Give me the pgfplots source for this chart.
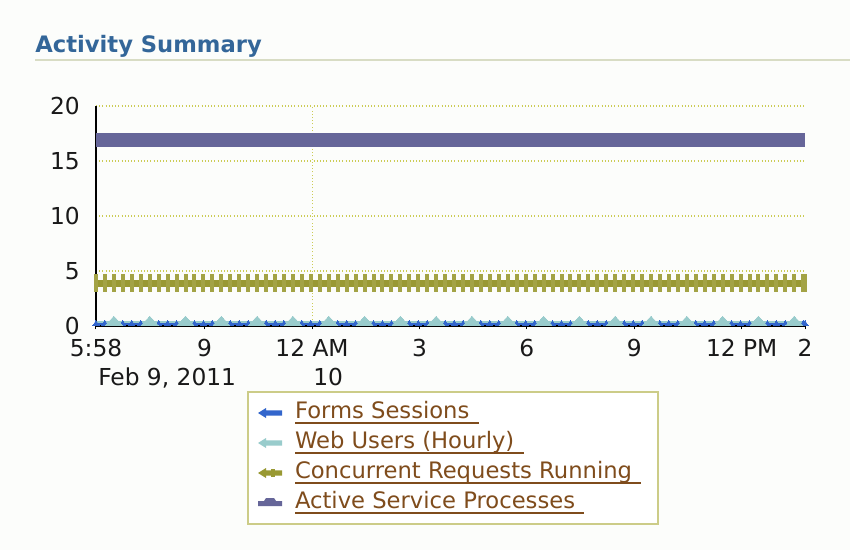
\documentclass[border=0pt]{standalone}
\usepackage{pgfplots}
\pgfplotsset{compat=1.18}
\usepackage{pgfplotstable}
\usepackage{fontspec}
\setmainfont{DejaVu Sans}
\definecolor{bg}{HTML}{FCFDFB}
\definecolor{titleblue}{HTML}{336699}
\definecolor{rulecol}{HTML}{D8DCC4}
\definecolor{gridcol}{HTML}{CCCC55}
\definecolor{fsblue}{HTML}{3366CC}
\definecolor{wuteal}{HTML}{99CCCC}
\definecolor{crolive}{HTML}{999933}
\definecolor{crbar}{HTML}{A3A345}
\definecolor{aspslate}{HTML}{666699}
\definecolor{lgbrown}{HTML}{7F4C1C}
\definecolor{lgborder}{HTML}{CCCC88}
\newcommand\tf{\fontsize{17.5}{21}\selectfont}
\newcommand\lf{\fontsize{17}{20.4}\selectfont}
\newcommand\lgd[1]{\hspace*{9.75pt}\setbox0\hbox{#1\hspace*{7pt}}\rlap{\rule[-4.2pt]{\wd0}{1.4pt}}\box0\hspace*{5pt}}
\newcommand\lgarrow[1]{\fill[#1, draw=none] (0pt,0pt) -- (6pt,3.75pt) -- (6pt,1.9pt) -- (18pt,1.9pt) -- (18pt,-1.9pt) -- (6pt,-1.9pt) -- (6pt,-3.75pt) -- cycle;}
\newcommand\lghump[1]{\fill[#1, draw=none] (0pt,-2.25pt) -- (0pt,1.5pt) -- (4.5pt,1.5pt) -- (6pt,3.75pt) -- (12pt,3.75pt) -- (13.5pt,1.5pt) -- (18pt,1.5pt) -- (18pt,-2.25pt) -- cycle;}
\pgfplotstableread{
x fs wu cr asp
0 0.2 0.35 3.9 16.9
0.25 0.2 0.35 3.9 16.9
0.5 0.2 0.35 3.9 16.9
0.75 0.2 0.35 3.9 16.9
1 0.2 0.35 3.9 16.9
1.25 0.2 0.35 3.9 16.9
1.5 0.2 0.35 3.9 16.9
1.75 0.2 0.35 3.9 16.9
2 0.2 0.35 3.9 16.9
2.25 0.2 0.35 3.9 16.9
2.5 0.2 0.35 3.9 16.9
2.75 0.2 0.35 3.9 16.9
3 0.2 0.35 3.9 16.9
3.25 0.2 0.35 3.9 16.9
3.5 0.2 0.35 3.9 16.9
3.75 0.2 0.35 3.9 16.9
4 0.2 0.35 3.9 16.9
4.25 0.2 0.35 3.9 16.9
4.5 0.2 0.35 3.9 16.9
4.75 0.2 0.35 3.9 16.9
5 0.2 0.35 3.9 16.9
5.25 0.2 0.35 3.9 16.9
5.5 0.2 0.35 3.9 16.9
5.75 0.2 0.35 3.9 16.9
6 0.2 0.35 3.9 16.9
6.25 0.2 0.35 3.9 16.9
6.5 0.2 0.35 3.9 16.9
6.75 0.2 0.35 3.9 16.9
7 0.2 0.35 3.9 16.9
7.25 0.2 0.35 3.9 16.9
7.5 0.2 0.35 3.9 16.9
7.75 0.2 0.35 3.9 16.9
8 0.2 0.35 3.9 16.9
8.25 0.2 0.35 3.9 16.9
8.5 0.2 0.35 3.9 16.9
8.75 0.2 0.35 3.9 16.9
9 0.2 0.35 3.9 16.9
9.25 0.2 0.35 3.9 16.9
9.5 0.2 0.35 3.9 16.9
9.75 0.2 0.35 3.9 16.9
10 0.2 0.35 3.9 16.9
10.25 0.2 0.35 3.9 16.9
10.5 0.2 0.35 3.9 16.9
10.75 0.2 0.35 3.9 16.9
11 0.2 0.35 3.9 16.9
11.25 0.2 0.35 3.9 16.9
11.5 0.2 0.35 3.9 16.9
11.75 0.2 0.35 3.9 16.9
12 0.2 0.35 3.9 16.9
12.25 0.2 0.35 3.9 16.9
12.5 0.2 0.35 3.9 16.9
12.75 0.2 0.35 3.9 16.9
13 0.2 0.35 3.9 16.9
13.25 0.2 0.35 3.9 16.9
13.5 0.2 0.35 3.9 16.9
13.75 0.2 0.35 3.9 16.9
14 0.2 0.35 3.9 16.9
14.25 0.2 0.35 3.9 16.9
14.5 0.2 0.35 3.9 16.9
14.75 0.2 0.35 3.9 16.9
15 0.2 0.35 3.9 16.9
15.25 0.2 0.35 3.9 16.9
15.5 0.2 0.35 3.9 16.9
15.75 0.2 0.35 3.9 16.9
16 0.2 0.35 3.9 16.9
16.25 0.2 0.35 3.9 16.9
16.5 0.2 0.35 3.9 16.9
16.75 0.2 0.35 3.9 16.9
17 0.2 0.35 3.9 16.9
17.25 0.2 0.35 3.9 16.9
17.5 0.2 0.35 3.9 16.9
17.75 0.2 0.35 3.9 16.9
18 0.2 0.35 3.9 16.9
18.25 0.2 0.35 3.9 16.9
18.5 0.2 0.35 3.9 16.9
18.75 0.2 0.35 3.9 16.9
19 0.2 0.35 3.9 16.9
19.25 0.2 0.35 3.9 16.9
19.5 0.2 0.35 3.9 16.9
19.75 0.2 0.35 3.9 16.9
19.8 0.2 0.35 3.9 16.9
}\data
\begin{document}
\begin{tikzpicture}
\begin{scope}[x=0.75pt,y=0.75pt]
\path[use as bounding box, fill=bg] (0,0) rectangle (850,550);
\node[anchor=base west, inner sep=0pt, font=\fontsize{17}{20}\selectfont\bfseries, text=titleblue] at (35,497) {Activity Summary};
\draw[rulecol, line width=1.5pt] (35,490) -- (850,490);
\end{scope}
\begin{axis}[
  at={(72pt,168pt)}, anchor=south west,
  scale only axis, width=531.75pt, height=165pt,
  xmin=0, xmax=19.8, ymin=0, ymax=20,
  axis x line=bottom, axis y line=left,
  axis line style={black, line width=1.5pt, -},
  xtick={0,3.0333,6.0333,9.0333,12.0333,15.0333,18.0333,19.8},
  xticklabels={5:58,9,12 AM,3,6,9,12 PM,2},
  ytick={0,5,10,15,20}, yticklabels={0,5,10,15,20},
  /pgf/number format/assume math mode=true,
  ymajorgrids,
  grid style={gridcol, line width=0.8pt, dash pattern=on 0.8pt off 1.6pt},
  extra x ticks={6.0333}, extra x tick labels={},
  extra x tick style={grid=major, major tick length=0pt},
  xtick style={black, line width=0.75pt}, ytick style={draw=none},
  major tick length=2.5pt, tick align=outside,
  ticklabel style={font=\tf, text=black!90, inner sep=0pt},
  x tick label style={yshift=-7pt},
  y tick label style={xshift=-9.5pt},
  legend style={at={(axis description cs:0.213,-0.2955)}, anchor=north west,
    draw=lgborder, line width=1.5pt, fill=white, text=lgbrown, font=\lf,
    inner xsep=7.5pt, inner ysep=4.5pt, row sep=0pt,
    nodes={inner sep=0pt, text height=15pt, text depth=7.5pt}},
  legend cell align=left,
]
\addplot[fsblue, line width=2.25pt, mark=triangle*, mark size=2.6pt,
  mark options={fsblue, line width=0pt},
  legend image code/.code={\lgarrow{fsblue}}] table[x=x,y=fs]{\data};
\addlegendentry{\lgd{Forms Sessions}}
\addplot[wuteal, line width=1.5pt, mark=triangle*, mark size=4.5pt, mark repeat=4, mark phase=3,
  mark options={wuteal, line width=0pt, xscale=1.6},
  legend image code/.code={\lgarrow{wuteal}}] table[x=x,y=wu]{\data};
\addlegendentry{\lgd{Web Users (Hourly)}}
\addplot[crolive, line width=5.25pt, mark=|, mark size=6.75pt,
  mark options={crbar, line width=3pt},
  legend image code/.code={\lgarrow{crolive}\fill[crolive, draw=none] (10pt,-3pt) rectangle (12.5pt,3pt);}] table[x=x,y=cr]{\data};
\addlegendentry{\lgd{Concurrent Requests Running}}
\addplot[aspslate, line width=10pt,
  legend image code/.code={\lghump{aspslate}}] table[x=x,y=asp]{\data};
\addlegendentry{\lgd{Active Service Processes}}
\end{axis}
\begin{scope}[x=0.75pt,y=0.75pt]
\node[anchor=base west, inner sep=0pt, font=\tf, text=black!90] at (98,164) {Feb 9, 2011};
\node[anchor=base west, inner sep=0pt, font=\tf, text=black!90] at (313,164) {10};
\end{scope}
\end{tikzpicture}
\end{document}
